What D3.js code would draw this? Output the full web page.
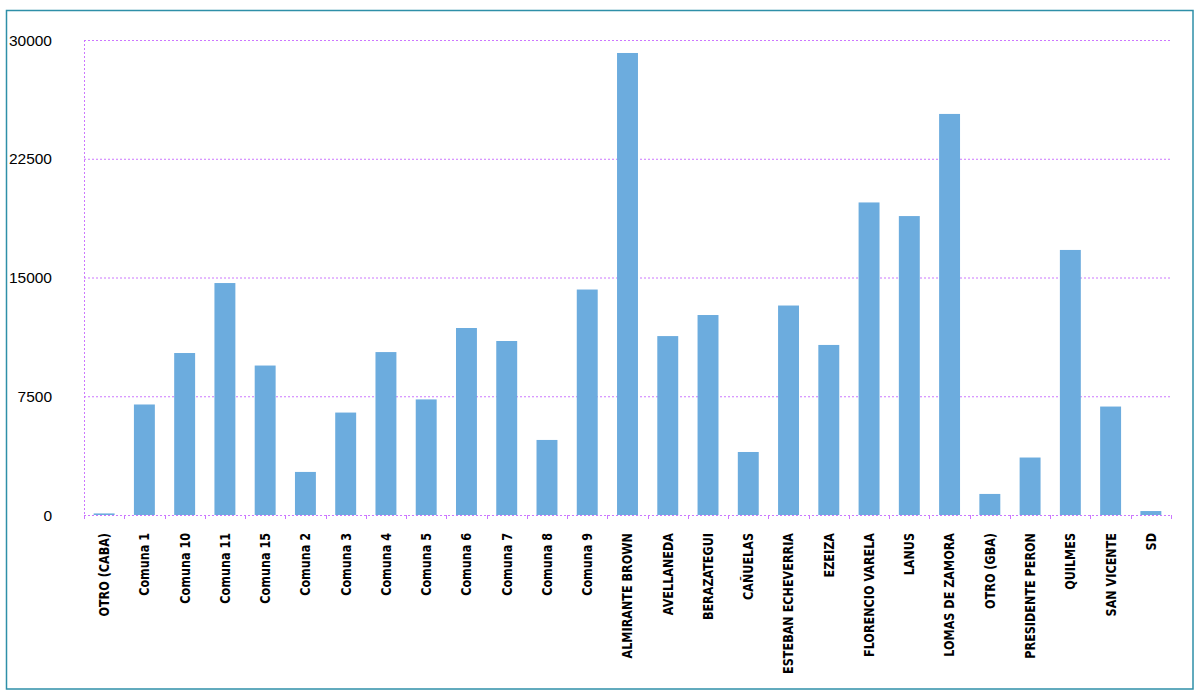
<!DOCTYPE html>
<html><head><meta charset="utf-8">
<script src="https://cdn.jsdelivr.net/npm/d3@7"></script>
<style>
html,body{margin:0;padding:0;background:#fff;}
svg{display:block;}
.cat{font-family:"Liberation Sans Narrow","Arial Narrow","DejaVu Sans Condensed",sans-serif;font-weight:bold;font-size:14px;fill:#000;}
.ytk{font-family:"Liberation Sans",Arial,Helvetica,sans-serif;font-size:15.5px;fill:#000;}
</style></head>
<body>
<svg id="c" width="1201" height="698"></svg>
<script>
const categories = ["OTRO (CABA)","Comuna 1","Comuna 10","Comuna 11","Comuna 15","Comuna 2","Comuna 3","Comuna 4","Comuna 5","Comuna 6","Comuna 7","Comuna 8","Comuna 9","ALMIRANTE BROWN","AVELLANEDA","BERAZATEGUI","CAÑUELAS","ESTEBAN ECHEVERRIA","EZEIZA","FLORENCIO VARELA","LANUS","LOMAS DE ZAMORA","OTRO (GBA)","PRESIDENTE PERON","QUILMES","SAN VICENTE","SD"];
const values = [100,6980,10230,14650,9440,2720,6470,10290,7300,11810,10990,4740,14240,29180,11300,12630,3980,13230,10740,19740,18880,25330,1330,3630,16740,6850,250];
const yTicks = [0,7500,15000,22500,30000];

const svg = d3.select("#c");
const L=84, R=1171, T=40, B=515;
const grid="#cc77ff";

svg.append("rect").attr("x",6.5).attr("y",10.5).attr("width",1186.5).attr("height",678.5)
  .attr("fill","none").attr("stroke","#2e8fa8").attr("stroke-width",1.5);

const x = d3.scaleBand().domain(categories).range([L,R]).paddingInner(0.48).paddingOuter(0.24);
const y = d3.scaleLinear().domain([0,30000]).range([B,T]);

// gridlines
svg.append("g").selectAll("line").data(yTicks.filter(d=>d>0)).join("line")
  .attr("x1",L).attr("x2",R).attr("y1",d=>y(d)+0.5).attr("y2",d=>y(d)+0.5)
  .attr("stroke",grid).attr("stroke-width",1).attr("stroke-dasharray","2,2");

// y tick labels
svg.append("g").selectAll("text").data(yTicks).join("text").attr("class","ytk")
  .attr("x",52).attr("y",d=>y(d)).attr("dy","0.36em").attr("text-anchor","end").text(d=>d);

// left axis
svg.append("line").attr("x1",L+0.5).attr("x2",L+0.5).attr("y1",T).attr("y2",B)
  .attr("stroke",grid).attr("stroke-dasharray","2,2");

// bars
svg.append("g").selectAll("rect").data(categories).join("rect")
  .attr("x",d=>x(d)).attr("width",x.bandwidth())
  .attr("y",(d,i)=>y(values[i])).attr("height",(d,i)=>B-y(values[i]))
  .attr("fill","#6cacde");

// bottom axis
svg.append("line").attr("x1",L).attr("x2",R).attr("y1",B+0.5).attr("y2",B+0.5)
  .attr("stroke",grid).attr("stroke-dasharray","2,2");
const step = (R-L)/categories.length;
const bounds = d3.range(categories.length+1).map(i=>L+i*step);
svg.append("g").selectAll("line").data(bounds).join("line")
  .attr("x1",d=>Math.round(d)+0.5).attr("x2",d=>Math.round(d)+0.5).attr("y1",B).attr("y2",B+4)
  .attr("stroke",grid);

// category labels
svg.append("g").selectAll("text").data(categories).join("text").attr("class","cat")
  .attr("transform",d=>`translate(${x(d)+x.bandwidth()/2},533) rotate(-90) scale(0.89,1)`)
  .attr("dy","0.35em").attr("text-anchor","end").text(d=>d);
</script>
</body></html>
